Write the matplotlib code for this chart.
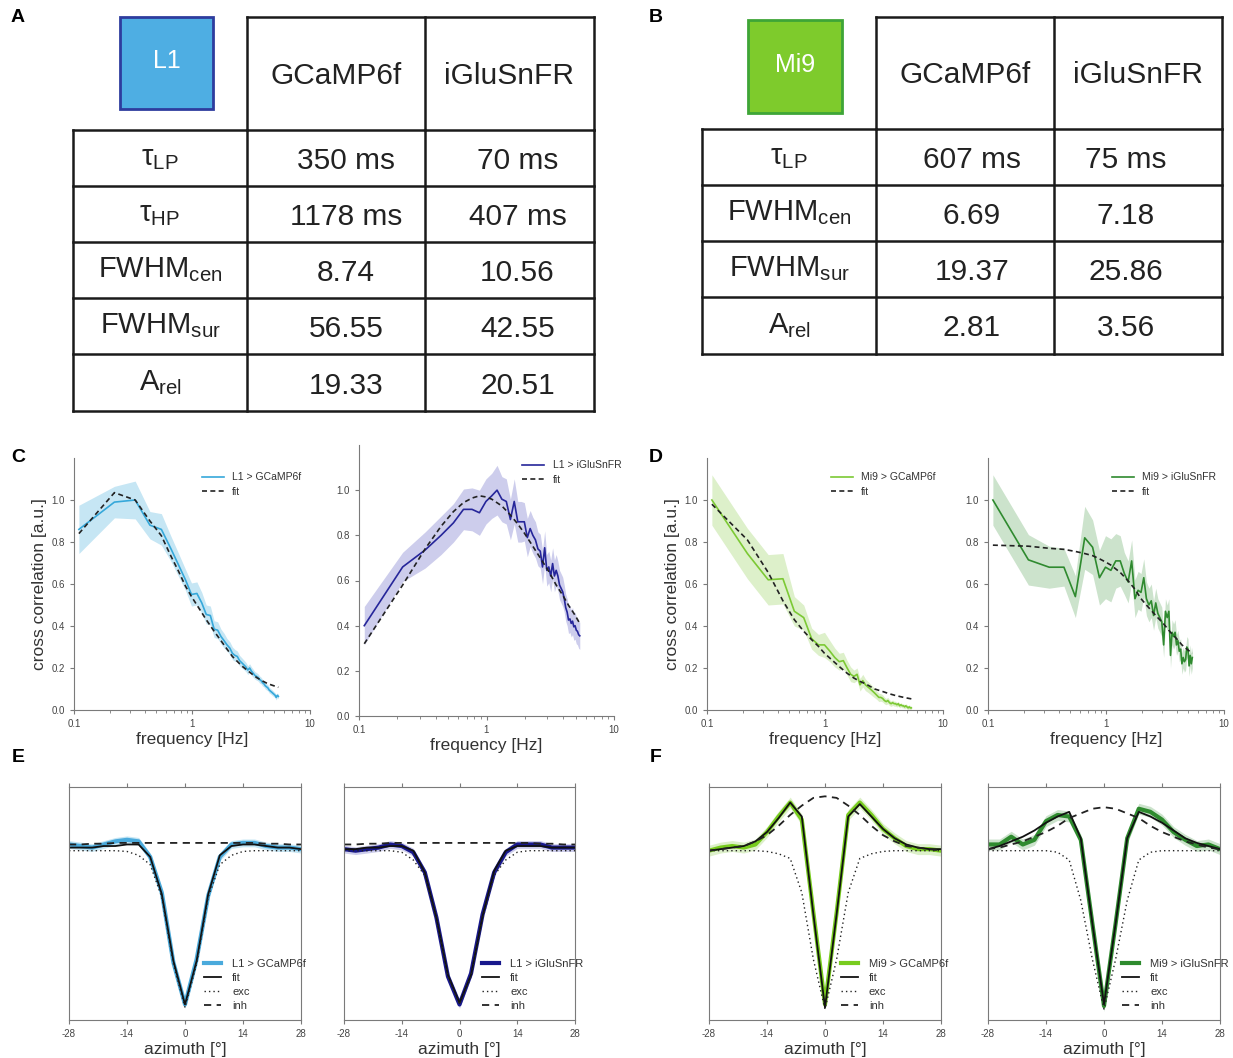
import numpy as np
import matplotlib.pyplot as plt
from matplotlib.patches import Rectangle
from matplotlib.ticker import NullFormatter

plt.rcParams['font.family'] = ['Liberation Sans', 'DejaVu Sans']

W, H = 1233, 1058

# ---- tables A / B ----
tab_cols = ['GCaMP6f', 'iGluSnFR']
l1_rows = [r'$\mathregular{τ_{LP}}$', r'$\mathregular{τ_{HP}}$', r'$\mathregular{FWHM_{cen}}$',
           r'$\mathregular{FWHM_{sur}}$', r'$\mathregular{A_{rel}}$']
l1_gcamp_vals = ['350 ms', '1178 ms', '8.74', '56.55', '19.33']
l1_iglu_vals = ['70 ms', '407 ms', '10.56', '42.55', '20.51']
mi9_rows = [r'$\mathregular{τ_{LP}}$', r'$\mathregular{FWHM_{cen}}$',
            r'$\mathregular{FWHM_{sur}}$', r'$\mathregular{A_{rel}}$']
mi9_gcamp_vals = ['607 ms', '6.69', '19.37', '2.81']
mi9_iglu_vals = ['75 ms', '7.18', '25.86', '3.56']

# ---- temporal tuning (C, D) ----
freq_hz = [0.11, 0.22, 0.33, 0.44, 0.55, 0.66, 0.77, 0.88, 0.99, 1.10,
           1.21, 1.32, 1.43, 1.54, 1.65, 1.76, 1.87, 1.98, 2.09, 2.20,
           2.31, 2.42, 2.53, 2.64, 2.75, 2.86, 2.97, 3.08, 3.19, 3.30,
           3.41, 3.52, 3.63, 3.74, 3.85, 3.96, 4.07, 4.18, 4.29, 4.40,
           4.51, 4.62, 4.73, 4.84, 4.95, 5.06, 5.17, 5.28, 5.39]
fit_freq_hz = [0.11, 0.22, 0.33, 0.44, 0.55, 0.66, 0.77, 0.88, 0.99, 1.10, 1.32,
               1.54, 1.76, 1.98, 2.20, 2.64, 3.08, 3.52, 3.96, 4.40, 4.84, 5.39]

l1_gcamp_tf = [0.86, 0.99, 1.00, 0.88, 0.86, 0.77, 0.69, 0.62, 0.55, 0.555,
               0.51, 0.455, 0.45, 0.385, 0.38, 0.35, 0.33, 0.31, 0.295, 0.27,
               0.26, 0.255, 0.235, 0.225, 0.215, 0.205, 0.19, 0.2, 0.185, 0.175,
               0.165, 0.16, 0.155, 0.145, 0.14, 0.13, 0.125, 0.115, 0.11, 0.105,
               0.095, 0.09, 0.085, 0.08, 0.075, 0.07, 0.06, 0.07, 0.065]
l1_gcamp_tf_sem = [0.115, 0.075, 0.09, 0.065, 0.075, 0.06, 0.055, 0.05, 0.055, 0.055,
                   0.05, 0.045, 0.045, 0.04, 0.04, 0.035, 0.035, 0.03, 0.03, 0.03,
                   0.028, 0.026, 0.025, 0.024, 0.023, 0.022, 0.021, 0.02, 0.02, 0.019,
                   0.018, 0.018, 0.017, 0.017, 0.016, 0.016, 0.015, 0.015, 0.015, 0.014,
                   0.014, 0.013, 0.013, 0.013, 0.012, 0.012, 0.012, 0.011, 0.011]
l1_gcamp_tf_fit = [0.84, 1.035, 1.0, 0.90, 0.83, 0.735, 0.66, 0.59, 0.54, 0.50, 0.43,
                   0.375, 0.33, 0.29, 0.255, 0.21, 0.18, 0.155, 0.138, 0.125, 0.117, 0.108]

l1_iglu_tf = [0.40, 0.66, 0.735, 0.80, 0.855, 0.915, 0.915, 0.90, 0.95, 0.975,
              1.0, 0.96, 0.95, 0.87, 0.95, 0.86, 0.86, 0.86, 0.79, 0.83,
              0.80, 0.78, 0.74, 0.73, 0.66, 0.745, 0.645, 0.66, 0.62, 0.675,
              0.62, 0.645, 0.62, 0.58, 0.565, 0.55, 0.52, 0.48, 0.46, 0.425,
              0.43, 0.41, 0.42, 0.395, 0.40, 0.38, 0.375, 0.36, 0.355]
l1_iglu_tf_sem = [0.085, 0.065, 0.08, 0.085, 0.085, 0.09, 0.095, 0.1, 0.1, 0.1,
                  0.11, 0.1, 0.1, 0.09, 0.1, 0.09, 0.09, 0.085, 0.085, 0.08,
                  0.08, 0.08, 0.075, 0.075, 0.075, 0.075, 0.07, 0.07, 0.07, 0.07,
                  0.07, 0.07, 0.065, 0.065, 0.065, 0.065, 0.06, 0.06, 0.06, 0.06,
                  0.06, 0.06, 0.06, 0.06, 0.06, 0.06, 0.06, 0.06, 0.06]
l1_iglu_tf_fit = [0.32, 0.58, 0.74, 0.84, 0.905, 0.945, 0.965, 0.975, 0.97, 0.96, 0.93,
                  0.89, 0.85, 0.81, 0.77, 0.70, 0.64, 0.58, 0.535, 0.49, 0.455, 0.41]

mi9_gcamp_tf = [1.0, 0.745, 0.62, 0.625, 0.47, 0.44, 0.34, 0.31, 0.31, 0.28,
                0.25, 0.23, 0.235, 0.20, 0.17, 0.16, 0.17, 0.12, 0.14, 0.12,
                0.11, 0.10, 0.09, 0.08, 0.07, 0.06, 0.06, 0.055, 0.045, 0.04,
                0.045, 0.035, 0.03, 0.035, 0.03, 0.03, 0.025, 0.03, 0.02, 0.025,
                0.02, 0.02, 0.015, 0.02, 0.015, 0.01, 0.015, 0.01, 0.01]
mi9_gcamp_tf_sem = [0.12, 0.12, 0.12, 0.12, 0.07, 0.06, 0.05, 0.05, 0.06, 0.05,
                    0.045, 0.04, 0.04, 0.035, 0.035, 0.03, 0.03, 0.03, 0.03, 0.028,
                    0.026, 0.025, 0.024, 0.022, 0.02, 0.02, 0.018, 0.017, 0.016, 0.015,
                    0.015, 0.014, 0.013, 0.013, 0.012, 0.012, 0.011, 0.011, 0.01, 0.01,
                    0.01, 0.01, 0.01, 0.01, 0.01, 0.01, 0.01, 0.01, 0.01]
mi9_gcamp_tf_fit = [0.98, 0.81, 0.655, 0.52, 0.43, 0.375, 0.335, 0.303, 0.27, 0.247, 0.207,
                    0.175, 0.152, 0.136, 0.125, 0.10, 0.088, 0.077, 0.069, 0.063, 0.058, 0.053]

mi9_iglu_tf = [1.0, 0.715, 0.68, 0.68, 0.54, 0.82, 0.775, 0.63, 0.68, 0.665,
               0.71, 0.71, 0.65, 0.61, 0.71, 0.53, 0.57, 0.56, 0.63, 0.53,
               0.50, 0.52, 0.45, 0.51, 0.46, 0.44, 0.42, 0.31, 0.47, 0.44,
               0.47, 0.26, 0.37, 0.35, 0.37, 0.31, 0.33, 0.28, 0.29, 0.22,
               0.25, 0.23, 0.24, 0.30, 0.29, 0.21, 0.26, 0.22, 0.25]
mi9_iglu_tf_sem = [0.12, 0.12, 0.1, 0.09, 0.1, 0.15, 0.13, 0.13, 0.15, 0.15,
                   0.13, 0.12, 0.1, 0.1, 0.1, 0.09, 0.09, 0.09, 0.09, 0.08,
                   0.08, 0.08, 0.07, 0.07, 0.07, 0.07, 0.07, 0.06, 0.06, 0.06,
                   0.06, 0.06, 0.06, 0.06, 0.06, 0.05, 0.05, 0.05, 0.05, 0.05,
                   0.05, 0.05, 0.05, 0.05, 0.05, 0.05, 0.05, 0.05, 0.05]
mi9_iglu_tf_fit = [0.785, 0.78, 0.77, 0.765, 0.755, 0.745, 0.735, 0.72, 0.705, 0.69, 0.655,
                   0.615, 0.575, 0.53, 0.50, 0.45, 0.41, 0.37, 0.34, 0.31, 0.29, 0.27]

# ---- spatial receptive fields (E, F) ----
azimuth = [-28, -25.2, -22.4, -19.6, -16.8, -14, -11.2, -8.4, -5.6, -2.8, 0,
           2.8, 5.6, 8.4, 11.2, 14, 16.8, 19.6, 22.4, 25.2, 28]

l1_gcamp_rf = [0.03, 0.02, 0.01, 0.03, 0.05, 0.06, 0.05, -0.05, -0.28, -0.73, -1.0,
               -0.71, -0.30, -0.05, 0.03, 0.04, 0.04, 0.02, 0.01, 0.01, 0.0]
l1_gcamp_rf_fit = [0.01, 0.01, 0.01, 0.02, 0.02, 0.03, 0.03, -0.05, -0.29, -0.72, -1.0,
                   -0.72, -0.29, -0.04, 0.02, 0.03, 0.03, 0.02, 0.01, 0.01, 0.0]
l1_gcamp_rf_exc = [-0.01, -0.01, -0.01, -0.01, -0.01, -0.015, -0.04, -0.10, -0.31, -0.74, -1.02,
                   -0.74, -0.31, -0.10, -0.04, -0.015, -0.01, -0.01, -0.01, -0.01, -0.01]
l1_gcamp_rf_inh = [0.03, 0.03, 0.035, 0.035, 0.04, 0.04, 0.04, 0.04, 0.04, 0.04, 0.04,
                   0.04, 0.04, 0.04, 0.04, 0.04, 0.04, 0.035, 0.035, 0.03, 0.03]

l1_iglu_rf = [0.0, -0.01, 0.0, 0.01, 0.03, 0.02, -0.02, -0.15, -0.44, -0.82, -1.0,
              -0.80, -0.42, -0.15, -0.02, 0.03, 0.03, 0.03, 0.01, 0.01, 0.01]
l1_iglu_rf_fit = [0.0, 0.0, 0.01, 0.01, 0.02, 0.02, -0.01, -0.15, -0.44, -0.81, -0.99,
                  -0.81, -0.43, -0.14, -0.01, 0.02, 0.02, 0.02, 0.01, 0.01, 0.01]
l1_iglu_rf_exc = [-0.01, -0.01, -0.01, -0.01, -0.01, -0.02, -0.07, -0.17, -0.45, -0.82, -1.0,
                  -0.82, -0.45, -0.17, -0.07, -0.02, -0.01, -0.01, -0.01, -0.01, -0.01]
l1_iglu_rf_inh = [0.03, 0.03, 0.035, 0.035, 0.04, 0.04, 0.04, 0.04, 0.04, 0.04, 0.04,
                  0.04, 0.04, 0.04, 0.04, 0.04, 0.04, 0.035, 0.035, 0.03, 0.03]

mi9_gcamp_rf = [-0.01, 0.01, 0.02, 0.01, 0.03, 0.11, 0.21, 0.30, 0.19, -0.41, -1.0,
                -0.41, 0.22, 0.30, 0.22, 0.13, 0.07, 0.02, 0.0, 0.0, -0.01]
mi9_gcamp_rf_fit = [-0.01, 0.0, 0.01, 0.02, 0.05, 0.11, 0.20, 0.30, 0.21, -0.42, -1.02,
                    -0.42, 0.21, 0.29, 0.21, 0.13, 0.07, 0.03, 0.01, 0.0, 0.0]
mi9_gcamp_rf_exc = [-0.01, -0.01, -0.01, -0.01, -0.01, -0.015, -0.03, -0.06, -0.28, -0.71, -1.03,
                    -0.71, -0.28, -0.06, -0.03, -0.015, -0.01, -0.01, -0.01, -0.01, -0.01]
mi9_gcamp_rf_inh = [-0.01, 0.0, 0.01, 0.02, 0.05, 0.09, 0.15, 0.22, 0.28, 0.33, 0.34,
                    0.33, 0.28, 0.22, 0.15, 0.09, 0.05, 0.02, 0.01, 0.0, -0.01]

mi9_iglu_rf = [0.03, 0.03, 0.08, 0.03, 0.06, 0.18, 0.22, 0.21, 0.06, -0.48, -1.01,
               -0.48, 0.07, 0.26, 0.24, 0.19, 0.11, 0.06, 0.02, 0.03, 0.0]
mi9_iglu_rf_fit = [0.0, 0.02, 0.05, 0.08, 0.12, 0.17, 0.21, 0.24, 0.07, -0.48, -1.0,
                   -0.48, 0.07, 0.24, 0.21, 0.17, 0.12, 0.07, 0.04, 0.02, 0.0]
mi9_iglu_rf_exc = [-0.01, -0.01, -0.01, -0.01, -0.01, -0.01, -0.02, -0.07, -0.33, -0.71, -1.03,
                   -0.71, -0.33, -0.07, -0.02, -0.01, -0.01, -0.01, -0.01, -0.01, -0.01]
mi9_iglu_rf_inh = [0.0, 0.01, 0.03, 0.05, 0.08, 0.11, 0.15, 0.20, 0.23, 0.26, 0.27,
                   0.26, 0.23, 0.20, 0.15, 0.11, 0.08, 0.05, 0.03, 0.01, 0.0]

rf_sem_l1 = 0.025
rf_sem_mi9 = 0.035

L1_GC, L1_GC_BAND = '#36A8DA', '#C6E6F4'
L1_IG, L1_IG_BAND = '#26269A', '#CDCDEC'
MI9_GC, MI9_GC_BAND = '#7CC934', '#DDF0CA'
MI9_IG, MI9_IG_BAND = '#2F8A2F', '#CCE3CC'
SPINE = '#7a7a7a'
TICKC = '#444444'

fig = plt.figure(figsize=(W / 100, H / 100), dpi=100)


def px_axes(l, t, r, b):
    return fig.add_axes([l / W, 1 - b / H, (r - l) / W, (b - t) / H])


# canvas axes in pixel units for the tables and panel letters
cv = fig.add_axes([0, 0, 1, 1])
cv.set_xlim(0, W)
cv.set_ylim(H, 0)
cv.axis('off')


def draw_table(col_x, head_top, row_y, rows, vals, dx, box, box_text, face, edge):
    lw = 1.8
    lc = '#1a1a1a'
    cv.plot([col_x[1], col_x[-1]], [head_top, head_top], color=lc, lw=lw)
    for x in col_x[1:]:
        cv.plot([x, x], [head_top, row_y[0]], color=lc, lw=lw)
    for y in row_y:
        cv.plot([col_x[0], col_x[-1]], [y, y], color=lc, lw=lw)
    for x in col_x:
        cv.plot([x, x], [row_y[0], row_y[-1]], color=lc, lw=lw)
    for j, name in enumerate(tab_cols):
        cv.text((col_x[j + 1] + col_x[j + 2]) / 2, (head_top + row_y[0]) / 2 + 2, name,
                ha='center', va='center', fontsize=21.5, color='#222222')
    for i, lab in enumerate(rows):
        yc = (row_y[i] + row_y[i + 1]) / 2
        cv.text((col_x[0] + col_x[1]) / 2, yc, lab, ha='center', va='center',
                fontsize=21, color='#222222')
        for j in range(2):
            cv.text((col_x[j + 1] + col_x[j + 2]) / 2 + dx[j], yc + 3, vals[j][i],
                    ha='center', va='center', fontsize=21.5, color='#222222')
    x0, y0, x1, y1 = box
    cv.add_patch(Rectangle((x0, y0), x1 - x0, y1 - y0, facecolor=face, edgecolor=edge, lw=2))
    cv.text((x0 + x1) / 2, (y0 + y1) / 2 - 2, box_text, ha='center', va='center',
            fontsize=18, color='white')


draw_table([73, 247, 425, 594], 17, [130, 186, 242, 298, 354, 411], l1_rows,
           [l1_gcamp_vals, l1_iglu_vals], (10, 8), (120, 17, 213, 109), 'L1',
           '#4EAEE3', '#2E3C9E')
draw_table([702, 876, 1054, 1222], 17, [129, 185, 241, 297, 354], mi9_rows,
           [mi9_gcamp_vals, mi9_iglu_vals], (7, -12), (748, 20, 842, 113), 'Mi9',
           '#7ECB2C', '#3EA537')

for letter, x, y in [('A', 18, 18), ('B', 656, 18), ('C', 18, 457),
                     ('D', 656, 457), ('E', 18, 757), ('F', 656, 757)]:
    cv.text(x, y, letter, ha='center', va='center', fontsize=14, fontweight='bold')


def freq_panel(box, y, sem, fit, color, band, label, leg_xy, ylabel=False):
    ax = px_axes(*box)
    y = np.array(y)
    sem = np.array(sem)
    ax.fill_between(freq_hz, y - sem, y + sem, color=band, lw=0)
    ax.plot(freq_hz, y, color=color, lw=1.2, label=label)
    ax.plot(fit_freq_hz, fit, color='#222222', lw=1.2, ls=(0, (3, 2)), label='fit')
    ax.set_xscale('log')
    ax.set_xlim(0.1, 10)
    ax.set_ylim(0, 1.2)
    ax.set_xticks([0.1, 1, 10], ['0.1', '1', '10'])
    ax.xaxis.set_minor_formatter(NullFormatter())
    ax.set_yticks([0, 0.2, 0.4, 0.6, 0.8, 1.0], ['0.0', '0.2', '0.4', '0.6', '0.8', '1.0'])
    for s in ['top', 'right']:
        ax.spines[s].set_visible(False)
    for s in ['left', 'bottom']:
        ax.spines[s].set_color(SPINE)
    ax.tick_params(labelsize=7, colors=SPINE, labelcolor=TICKC, length=3, width=0.8)
    ax.tick_params(which='minor', length=2, width=0.6, colors=SPINE)
    ax.set_xlabel('frequency [Hz]', fontsize=12.5, color='#333333', labelpad=2)
    if ylabel:
        ax.set_ylabel('cross correlation [a.u.]', fontsize=12.5, color='#333333', labelpad=3)
    ax.legend(loc='upper left', bbox_to_anchor=leg_xy, frameon=False, fontsize=7.5,
              borderpad=0, handlelength=2.1, handletextpad=0.8, labelspacing=0.45,
              labelcolor='#333333')
    return ax


freq_panel((74, 458, 310, 710), l1_gcamp_tf, l1_gcamp_tf_sem, l1_gcamp_tf_fit,
           L1_GC, L1_GC_BAND, 'L1 > GCaMP6f', (0.521, 0.964), ylabel=True)
freq_panel((359, 445, 614, 716), l1_iglu_tf, l1_iglu_tf_sem, l1_iglu_tf_fit,
           L1_IG, L1_IG_BAND, 'L1 > iGluSnFR', (0.62, 0.963))
freq_panel((707, 458, 943, 710), mi9_gcamp_tf, mi9_gcamp_tf_sem, mi9_gcamp_tf_fit,
           MI9_GC, MI9_GC_BAND, 'Mi9 > GCaMP6f', (0.504, 0.964), ylabel=True)
freq_panel((988, 458, 1224, 710), mi9_iglu_tf, mi9_iglu_tf_sem, mi9_iglu_tf_fit,
           MI9_IG, MI9_IG_BAND, 'Mi9 > iGluSnFR', (0.504, 0.964))


def space_panel(box, data, fit, exc, inh, sem, color, band, label, leg_x):
    ax = px_axes(*box)
    data = np.array(data)
    ax.fill_between(azimuth, data - sem, data + sem, color=band, lw=0)
    ax.plot(azimuth, data, color=color, lw=3, label=label)
    ax.plot(azimuth, fit, color='#111111', lw=1.3, label='fit')
    ax.plot(azimuth, exc, color='#222222', lw=1.0, ls=(0, (1, 2.2)), label='exc')
    ax.plot(azimuth, inh, color='#222222', lw=1.3, ls=(0, (4, 3)), label='inh')
    ax.set_xlim(-28, 28)
    ax.set_ylim(-1.1, 0.4)
    ax.set_yticks([])
    ax.set_xticks([-28, -14, 0, 14, 28], ['-28', '-14', '0', '14', '28'])
    for s in ax.spines.values():
        s.set_color(SPINE)
    ax.tick_params(top=True, labeltop=False, direction='out', labelsize=7,
                   colors=SPINE, labelcolor=TICKC, length=3, width=0.8)
    ax.set_xlabel('azimuth [°]', fontsize=12.5, color='#333333', labelpad=2)
    ax.legend(loc='upper left', bbox_to_anchor=(leg_x, 0.285), frameon=False, fontsize=8,
              borderpad=0, handlelength=1.5, handletextpad=1.0, labelspacing=0.35,
              labelcolor='#333333')
    return ax


space_panel((69, 787, 301, 1020), l1_gcamp_rf, l1_gcamp_rf_fit, l1_gcamp_rf_exc,
            l1_gcamp_rf_inh, rf_sem_l1, '#4AAADC', L1_GC_BAND, 'L1 > GCaMP6f', 0.56)
space_panel((344, 787, 575, 1020), l1_iglu_rf, l1_iglu_rf_fit, l1_iglu_rf_exc,
            l1_iglu_rf_inh, rf_sem_l1, '#18188C', L1_IG_BAND, 'L1 > iGluSnFR', 0.575)
space_panel((709, 787, 941, 1020), mi9_gcamp_rf, mi9_gcamp_rf_fit, mi9_gcamp_rf_exc,
            mi9_gcamp_rf_inh, rf_sem_mi9, '#78CC1E', MI9_GC_BAND, 'Mi9 > GCaMP6f', 0.545)
space_panel((988, 787, 1220, 1020), mi9_iglu_rf, mi9_iglu_rf_fit, mi9_iglu_rf_exc,
            mi9_iglu_rf_inh, rf_sem_mi9, '#2E8B2E', MI9_IG_BAND, 'Mi9 > iGluSnFR', 0.555)

fig.savefig('out.png', dpi=100)
